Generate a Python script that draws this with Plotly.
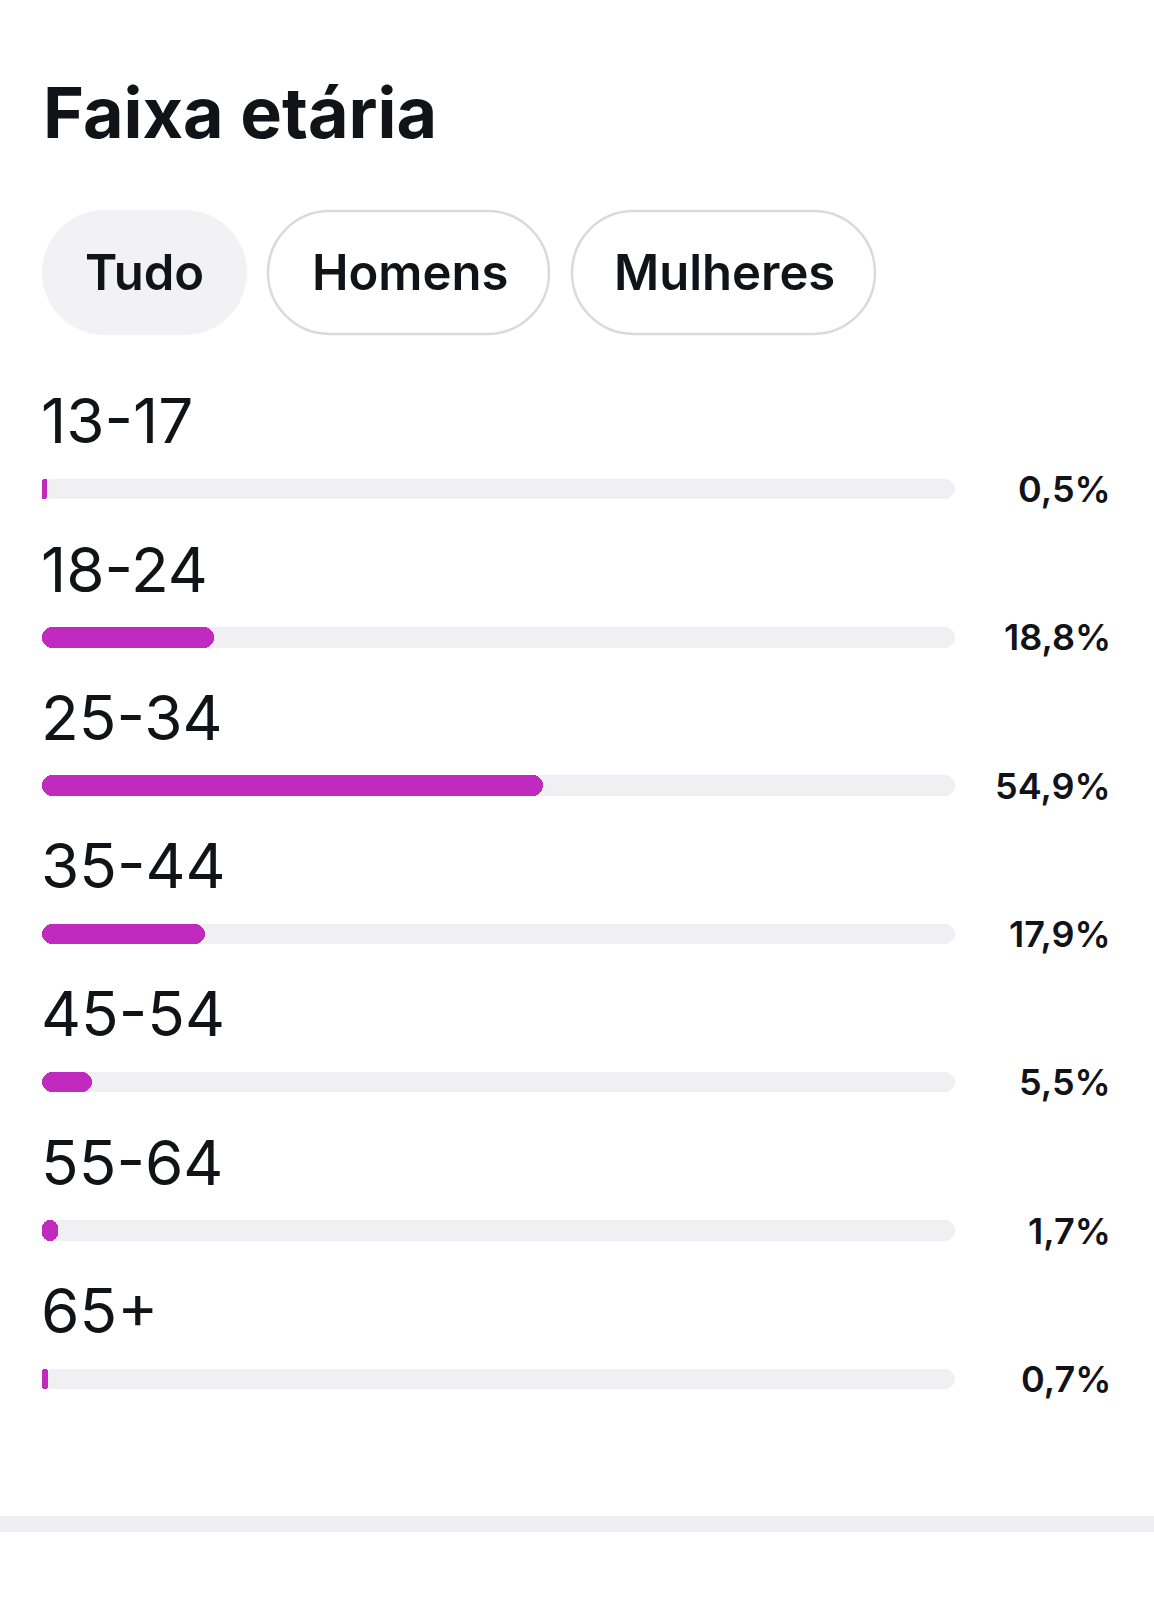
import plotly.graph_objects as go

# ---- data ----
categories = ["13-17", "18-24", "25-34", "35-44", "45-54", "55-64", "65+"]
values = [0.5, 18.8, 54.9, 17.9, 5.5, 1.7, 0.7]
value_labels = ["0,5%", "18,8%", "54,9%", "17,9%", "5,5%", "1,7%", "0,7%"]
title_text = "Faixa etária"
tabs = ["Tudo", "Homens", "Mulheres"]
max_value = 100

# ---- layout constants ----
W, H = 1154, 1600
FONT = "Inter, Roboto, 'Noto Sans', sans-serif"
TEXT_COLOR = "#111318"
BAR_COLOR = "#C02ABF"
TRACK_COLOR = "#F0F0F3"
ROW0_Y = 489.0   # px, center of first bar
ROW_STEP = 148.3  # px between rows
BAR_PX = 20.5
X_LEFT, X_RIGHT = 42, 955

def py(px):
    return 1 - px / H

def px_x(px):
    return px / W

idx = list(range(len(categories)))
low = -ROW0_Y / ROW_STEP
high = low + H / ROW_STEP
bw = BAR_PX / ROW_STEP

fig = go.Figure()
# explicit base -> plotly rounds both ends of each bar
fig.add_trace(go.Bar(
    x=[max_value] * len(categories), y=idx, base=[0] * len(categories),
    orientation="h", width=bw,
    marker=dict(color=TRACK_COLOR, cornerradius=BAR_PX / 2, line=dict(width=0)),
    hoverinfo="skip", showlegend=False,
))
fig.add_trace(go.Bar(
    x=values, y=idx, base=[0] * len(categories), orientation="h", width=bw,
    marker=dict(color=BAR_COLOR, cornerradius=BAR_PX / 2, line=dict(width=0)),
    customdata=list(zip(categories, value_labels)),
    hovertemplate="%{customdata[0]}: %{customdata[1]}<extra></extra>",
    showlegend=False,
))

annotations = []
# title
annotations.append(dict(
    text=f"<b>{title_text}</b>", x=px_x(41), y=py(113), xref="paper", yref="paper",
    xanchor="left", yanchor="middle", showarrow=False,
    font=dict(family=FONT, size=70, color=TEXT_COLOR),
))
# category labels & value labels
for i, (c, lab) in enumerate(zip(categories, value_labels)):
    annotations.append(dict(
        text=c, x=px_x(39), y=i - 0.46, xref="paper", yref="y",
        xanchor="left", yanchor="middle", showarrow=False,
        font=dict(family=FONT, size=62, color=TEXT_COLOR),
    ))
    annotations.append(dict(
        text=lab, x=px_x(1113), y=i, xref="paper", yref="y",
        xanchor="right", yanchor="middle", showarrow=False,
        font=dict(family=FONT, size=36, color=TEXT_COLOR, weight=600),
    ))

# pills
pill_boxes = [(42, 247), (268, 551), (572, 877)]
PILL_TOP, PILL_BOT = 210, 335
shapes = []

def pill_path(w, h):
    r = h / 2
    k = 0.5523 * r
    p = f"M {r},{r} L {w - r},{r} "
    p += f"C {w - r + k},{r} {w},{k} {w},0 "
    p += f"C {w},{-k} {w - r + k},{-r} {w - r},{-r} "
    p += f"L {r},{-r} "
    p += f"C {r - k},{-r} 0,{-k} 0,0 "
    p += f"C 0,{k} {r - k},{r} {r},{r} Z"
    return p

for j, (t, (x0, x1)) in enumerate(zip(tabs, pill_boxes)):
    w = x1 - x0
    h = PILL_BOT - PILL_TOP
    selected = j == 0
    shapes.append(dict(
        type="path", xref="paper", yref="paper",
        xsizemode="pixel", ysizemode="pixel",
        xanchor=px_x(x0), yanchor=py((PILL_TOP + PILL_BOT) / 2),
        path=pill_path(w, h) if selected else pill_path(w - 2, h - 2),
        fillcolor="#F2F2F4" if selected else "#FFFFFF",
        line=dict(color="rgba(0,0,0,0)" if selected else "#DADADA", width=0 if selected else 2.5),
        layer="below",
    ))
    annotations.append(dict(
        text=t, x=px_x((x0 + x1) / 2), y=py((PILL_TOP + PILL_BOT) / 2),
        xref="paper", yref="paper", xanchor="center", yanchor="middle",
        showarrow=False, font=dict(family=FONT, size=49, color=TEXT_COLOR, weight=600),
    ))

# bottom separator
shapes.append(dict(
    type="rect", xref="paper", yref="paper", x0=0, x1=1,
    y0=py(1532), y1=py(1516), fillcolor="#EFEFF3", line=dict(width=0), layer="below",
))

fig.update_layout(
    width=W, height=H, margin=dict(l=0, r=0, t=0, b=0),
    paper_bgcolor="white", plot_bgcolor="rgba(0,0,0,0)",
    barmode="overlay", bargap=0,
    xaxis=dict(domain=[px_x(X_LEFT), px_x(X_RIGHT)], range=[0, max_value],
               visible=False, fixedrange=True),
    yaxis=dict(domain=[0, 1], range=[high, low], visible=False, fixedrange=True),
    annotations=annotations, shapes=shapes,
)

fig.write_html("out.html", config={"displayModeBar": False},
               post_script="document.body.style.margin='0';")
